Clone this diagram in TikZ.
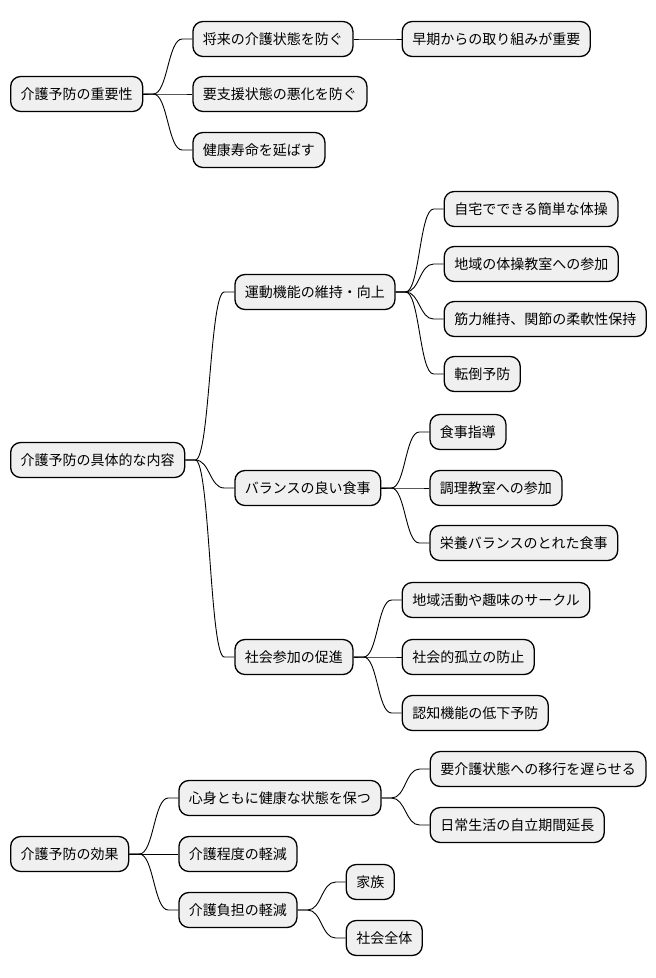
\documentclass[tikz,border=0pt]{standalone}
\usepackage{fontspec}
\newfontfamily\jpfont{Noto Sans CJK JP}
\usetikzlibrary{calc}
\tikzset{
  mmbox/.style={draw=black, line width=1.3pt, fill=black!6, rounded corners=10pt,
    inner xsep=10pt, inner ysep=0pt, minimum height=35pt, anchor=west,
    font=\jpfont\fontsize{14}{16}\selectfont},
  mmline/.style={draw=black, line width=0.9pt}
}
\newcommand\linkto[2]{%
  \path ([xshift=-10pt]#2.west) coordinate (t) ([xshift=10pt]#1.east) coordinate (s)
        ($(s)!.5!(t)$) coordinate (m);
  \draw[mmline] (#1.east) -- (s) .. controls (m |- s) and (m |- t) .. (t) -- (#2.west);}
\begin{document}
\begin{tikzpicture}[x=1pt,y=-1pt]
\useasboundingbox (0,0) rectangle (656,978);
% tree 1
\node[mmbox] (A1) at (10,94) {介護予防の重要性};
\node[mmbox, xshift=49pt] (A11) at (A1.east |- 0,39) {将来の介護状態を防ぐ};
\node[mmbox, xshift=48pt] (A111) at (A11.east |- 0,39) {早期からの取り組みが重要};
\node[mmbox, xshift=49pt] (A12) at (A1.east |- 0,94) {要支援状態の悪化を防ぐ};
\node[mmbox, xshift=49pt] (A13) at (A1.east |- 0,150) {健康寿命を延ばす};
\linkto{A1}{A11}\linkto{A11}{A111}\linkto{A1}{A12}\linkto{A1}{A13}
% tree 2
\node[mmbox] (B1) at (10,460) {介護予防の具体的な内容};
\node[mmbox, xshift=49pt] (B11) at (B1.east |- 0,292) {運動機能の維持・向上};
\node[mmbox, xshift=48pt] (B111) at (B11.east |- 0,209) {自宅でできる簡単な体操};
\node[mmbox, xshift=48pt] (B112) at (B11.east |- 0,264) {地域の体操教室への参加};
\node[mmbox, xshift=48pt] (B113) at (B11.east |- 0,319) {筋力維持、関節の柔軟性保持};
\node[mmbox, xshift=48pt] (B114) at (B11.east |- 0,374) {転倒予防};
\node[mmbox, xshift=49pt] (B12) at (B1.east |- 0,488) {バランスの良い食事};
\node[mmbox, xshift=48pt] (B121) at (B12.east |- 0,432) {食事指導};
\node[mmbox, xshift=48pt] (B122) at (B12.east |- 0,488) {調理教室への参加};
\node[mmbox, xshift=48pt] (B123) at (B12.east |- 0,543) {栄養バランスのとれた食事};
\node[mmbox, xshift=49pt] (B13) at (B1.east |- 0,657) {社会参加の促進};
\node[mmbox, xshift=48pt] (B131) at (B13.east |- 0,600) {地域活動や趣味のサークル};
\node[mmbox, xshift=48pt] (B132) at (B13.east |- 0,657) {社会的孤立の防止};
\node[mmbox, xshift=48pt] (B133) at (B13.east |- 0,713) {認知機能の低下予防};
\linkto{B1}{B11}\linkto{B1}{B12}\linkto{B1}{B13}
\linkto{B11}{B111}\linkto{B11}{B112}\linkto{B11}{B113}\linkto{B11}{B114}
\linkto{B12}{B121}\linkto{B12}{B122}\linkto{B12}{B123}
\linkto{B13}{B131}\linkto{B13}{B132}\linkto{B13}{B133}
% tree 3
\node[mmbox] (C1) at (10,854) {介護予防の効果};
\node[mmbox, xshift=49pt] (C11) at (C1.east |- 0,798) {心身ともに健康な状態を保つ};
\node[mmbox, xshift=48pt] (C111) at (C11.east |- 0,769) {要介護状態への移行を遅らせる};
\node[mmbox, xshift=48pt] (C112) at (C11.east |- 0,825) {日常生活の自立期間延長};
\node[mmbox, xshift=49pt] (C12) at (C1.east |- 0,854) {介護程度の軽減};
\node[mmbox, xshift=49pt] (C13) at (C1.east |- 0,910) {介護負担の軽減};
\node[mmbox, xshift=48pt] (C131) at (C13.east |- 0,882) {家族};
\node[mmbox, xshift=48pt] (C132) at (C13.east |- 0,938) {社会全体};
\linkto{C1}{C11}\linkto{C1}{C12}\linkto{C1}{C13}
\linkto{C11}{C111}\linkto{C11}{C112}
\linkto{C13}{C131}\linkto{C13}{C132}
\end{tikzpicture}
\end{document}
